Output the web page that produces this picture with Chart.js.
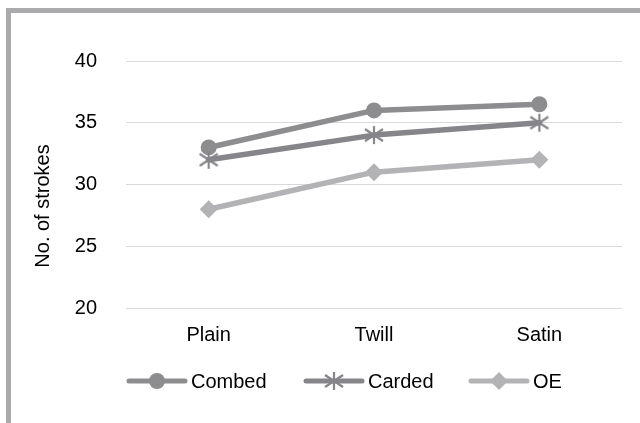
<!DOCTYPE html>
<html>
<head>
<meta charset="utf-8">
<script src="https://cdn.jsdelivr.net/npm/chart.js@4/dist/chart.umd.min.js"></script>
<style>
  html, body { margin: 0; padding: 0; background: #fff; }
  #wrap { position: relative; width: 640px; height: 423px; overflow: hidden; }
  #frame { position: absolute; left: 6px; top: 8px; width: 700px; height: 500px;
           border-top: 5px solid #aaaaad; border-left: 5px solid #aaaaad; box-sizing: border-box; }
  canvas { position: absolute; left: 0; top: 0; }
</style>
</head>
<body>
<div id="wrap">
  <div id="frame"></div>
  <canvas id="c" width="640" height="423"></canvas>
</div>
<script>
const categories = ["Plain", "Twill", "Satin"];
const combed = [33, 36, 36.5];
const carded = [32, 34, 35];
const oe = [28, 31, 32];
const yTicks = [20, 25, 30, 35, 40];
const seriesNames = ["Combed", "Carded", "OE"];
const yTitle = "No. of strokes";

const FONT = "'Liberation Sans', Arial, sans-serif";
const FS = 20;
const colors = ["#8d8d90", "#86868a", "#b3b3b6"];

function makeStar(color) {
  const c = document.createElement("canvas");
  c.width = 22; c.height = 22;
  const g = c.getContext("2d");
  g.strokeStyle = color; g.lineWidth = 2.2; g.lineCap = "butt";
  g.beginPath();
  g.moveTo(11, 2); g.lineTo(11, 20);
  g.moveTo(2, 5); g.lineTo(20, 17);
  g.moveTo(2, 17); g.lineTo(20, 5);
  g.stroke();
  return c;
}
const starImg = makeStar(colors[1]);

const legendPlugin = {
  id: "customLegend",
  afterDraw(chart) {
    const ctx = chart.ctx;
    // rotated y-axis title
    ctx.save();
    ctx.translate(43, 206);
    ctx.rotate(-Math.PI / 2);
    ctx.fillStyle = "#000";
    ctx.font = FS + "px " + FONT;
    ctx.textAlign = "center";
    ctx.textBaseline = "middle";
    ctx.fillText(yTitle, 0, 0);
    ctx.restore();

    const y = 381;
    const xs = [127, 304, 469];
    ctx.save();
    chart.data.datasets.forEach((ds, i) => {
      const x = xs[i];
      ctx.strokeStyle = ds.borderColor;
      ctx.lineWidth = 5;
      ctx.lineCap = "round";
      ctx.beginPath();
      ctx.moveTo(x + 2, y); ctx.lineTo(x + 58, y);
      ctx.stroke();
      const mx = x + 30;
      ctx.fillStyle = ds.borderColor;
      if (ds.pointStyle === "circle") {
        ctx.beginPath(); ctx.arc(mx, y, 8, 0, Math.PI * 2); ctx.fill();
      } else if (ds.pointStyle === "rectRot") {
        ctx.beginPath();
        ctx.moveTo(mx, y - 9); ctx.lineTo(mx + 9, y); ctx.lineTo(mx, y + 9); ctx.lineTo(mx - 9, y);
        ctx.closePath(); ctx.fill();
      } else {
        ctx.drawImage(ds.pointStyle, mx - 11, y - 11);
      }
      ctx.fillStyle = "#000";
      ctx.font = FS + "px " + FONT;
      ctx.textAlign = "left";
      ctx.textBaseline = "middle";
      ctx.fillText(ds.label, x + 64, y + 1);
    });
    ctx.restore();
  }
};

new Chart(document.getElementById("c"), {
  type: "line",
  data: {
    labels: categories,
    datasets: [
      { label: seriesNames[0], data: combed, borderColor: colors[0], backgroundColor: colors[0],
        pointStyle: "circle", pointRadius: 8, borderWidth: 5.5, pointBorderWidth: 0, order: 2 },
      { label: seriesNames[1], data: carded, borderColor: colors[1], backgroundColor: colors[1],
        pointStyle: starImg, pointRadius: 10, borderWidth: 5.5, pointBorderWidth: 0, order: 1 },
      { label: seriesNames[2], data: oe, borderColor: colors[2], backgroundColor: colors[2],
        pointStyle: "rectRot", pointRadius: 9, borderWidth: 5.5, pointBorderWidth: 0, order: 3 }
    ]
  },
  options: {
    responsive: false,
    animation: false,
    layout: { padding: { top: 61, right: 18, left: 0, bottom: 0 } },
    plugins: { legend: { display: false }, tooltip: { enabled: false } },
    elements: { line: { tension: 0, borderCapStyle: "round", borderJoinStyle: "round" } },
    scales: {
      x: {
        offset: true,
        grid: { display: false, drawTicks: false, offset: true },
        border: { display: false },
        ticks: { color: "#000", font: { family: FONT, size: FS }, padding: 15, maxRotation: 0 },
        afterFit(scale) { scale.height = 115; }
      },
      y: {
        min: 20, max: 40,
        afterBuildTicks(scale) { scale.ticks = yTicks.map(v => ({ value: v })); },
        grid: { color: "#d9d9d9", lineWidth: 1, drawTicks: false },
        border: { display: false },
        ticks: { color: "#000", font: { family: FONT, size: FS }, padding: 29 },
        title: { display: false },
        afterFit(scale) { scale.width = 126; }
      }
    }
  },
  plugins: [legendPlugin]
});
</script>
</body>
</html>
